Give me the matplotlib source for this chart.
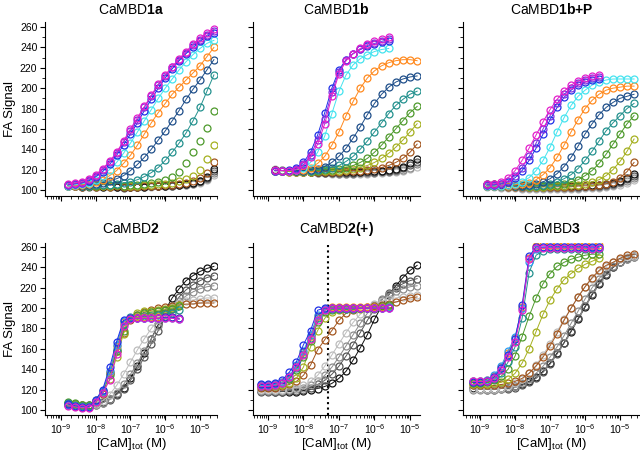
import numpy as np
import matplotlib
matplotlib.use('Agg')
import matplotlib.pyplot as plt
from matplotlib.ticker import LogLocator, LogFormatterSciNotation, MultipleLocator, NullFormatter

plt.rcParams['font.family'] = ['Liberation Sans', 'DejaVu Sans']
plt.rcParams['mathtext.fontset'] = 'custom'
plt.rcParams['mathtext.rm'] = 'Liberation Sans'
plt.rcParams['mathtext.it'] = 'Liberation Sans:italic'
plt.rcParams['mathtext.bf'] = 'Liberation Sans:bold'

# log10 of [CaM]tot (M) at the titration points
logc_a = [-8.8, -8.6, -8.4, -8.2, -8.0, -7.8, -7.6, -7.4, -7.2, -7.0, -6.8,
          -6.6, -6.4, -6.2, -6.0, -5.8, -5.6, -5.4, -5.2, -5.0, -4.8, -4.6]
logc_b = [-8.8, -8.6, -8.4, -8.2, -8.0, -7.8, -7.6, -7.4, -7.2, -7.0, -6.8,
          -6.6, -6.4, -6.2, -6.0, -5.8, -5.6, -5.4, -5.2, -5.0, -4.8]
logc_s = [-8.8, -8.6, -8.4, -8.2, -8.0, -7.8, -7.6, -7.4, -7.2, -7.0, -6.8,
          -6.6, -6.4, -6.2, -6.0, -5.8, -5.6]
logc_w = [-9.2, -9.0, -8.8, -8.6, -8.4, -8.2, -8.0, -7.8, -7.6, -7.4, -7.2, -7.0,
          -6.8, -6.6, -6.4, -6.2, -6.0, -5.8, -5.6, -5.4, -5.2, -5.0, -4.8]
logc_ws = [-9.2, -9.0, -8.8, -8.6, -8.4, -8.2, -8.0, -7.8, -7.6, -7.4, -7.2, -7.0,
           -6.8, -6.6, -6.4, -6.2, -6.0, -5.8, -5.6]
logc_x = [-9.2, -9.0, -8.8, -8.6, -8.4, -8.2, -8.0, -7.8, -7.6, -7.4, -7.2, -7.0,
          -6.8, -6.6, -6.4, -6.2, -6.0, -5.8, -5.6, -5.4, -5.2, -5.0, -4.8, -4.6]

decades = [-9, -8, -7, -6, -5]

COLORS = {'magenta': '#e31ecb', 'purple': '#7b2fe0', 'blue': '#1f30e8',
          'cyan': '#45e3ef', 'azure': '#2a9bf0', 'orange': '#ff8a1f',
          'navy': '#1f4f8a', 'teal': '#23918e', 'green': '#4e9a2c',
          'olive': '#a5b020', 'brown': '#a3561f', 'black': '#111111',
          'dgray': '#555555', 'gray': '#8a8a8a', 'lgray': '#bdbdbd'}

cambd1a = {
    'magenta': [106, 107, 108, 111, 115, 121, 128, 137, 148, 160, 171, 182, 193, 204, 213, 221, 229, 236, 243, 249, 254, 258],
    'purple': [105, 106, 107, 110, 114, 120, 127, 136, 147, 158, 169, 181, 192, 203, 212, 221, 228, 235, 242, 247, 252, 256],
    'blue': [105, 106, 107, 109, 113, 118, 125, 134, 144, 155, 166, 178, 189, 200, 210, 219, 227, 234, 240, 246, 251, 254],
    'cyan': [104, 105, 106, 107, 110, 114, 120, 127, 136, 146, 157, 168, 179, 190, 200, 209, 218, 226, 233, 239, 244, 247],
    'orange': [104, 104, 105, 106, 108, 110, 114, 119, 126, 134, 144, 155, 166, 176, 185, 194, 201, 208, 215, 222, 231, 240],
    'navy': [104, 104, 104, 105, 106, 107, 109, 111, 114, 119, 125, 132, 140, 149, 158, 168, 178, 189, 199, 208, 218, 228],
    'teal': [104, 104, 104, 104, 105, 105, 105, 106, 107, 108, 110, 113, 117, 122, 129, 137, 146, 156, 168, 181, 197, 213],
    'green': [105, 105, 104, 104, 104, 105, 105, 105, 104, 105, 105, 106, 107, 108, 110, 113, 118, 126, 137, 148, 161, 178],
    'olive': [105, 104, 104, 104, 104, 104, 104, 105, 104, 104, 104, 105, 105, 106, 106, 107, 109, 111, 114, 120, 130, 144],
    'brown': [104, 104, 103, 104, 103, 104, 103, 104, 103, 103, 103, 104, 104, 104, 105, 105, 106, 107, 109, 112, 117, 127],
    'black': [104, 104, 103, 104, 104, 103, 104, 103, 103, 103, 103, 103, 104, 104, 104, 105, 105, 106, 107, 109, 113, 121],
    'dgray': [105, 104, 104, 103, 103, 104, 103, 103, 102, 103, 103, 103, 104, 104, 104, 104, 105, 106, 107, 109, 112, 119],
    'gray': [105, 105, 104, 104, 104, 103, 104, 103, 103, 103, 103, 104, 104, 104, 104, 104, 105, 105, 106, 108, 111, 117],
    'lgray': [105, 104, 104, 104, 103, 103, 103, 103, 103, 103, 103, 103, 103, 104, 104, 104, 105, 105, 106, 107, 110, 115],
}

cambd1b = {
    'magenta': [120, 119, 119, 120, 124, 132, 145, 165, 192, 214, 227, 234, 239, 243, 246, 248, 250],
    'purple': [119, 119, 119, 121, 125, 134, 149, 170, 196, 216, 228, 234, 238, 242, 244, 246, 248],
    'blue': [119, 119, 120, 122, 127, 137, 154, 176, 200, 218, 228, 234, 238, 241, 243, 245, 246],
    'cyan': [119, 119, 119, 120, 122, 127, 137, 153, 175, 197, 213, 223, 229, 233, 236, 238, 239],
    'orange': [119, 119, 119, 120, 120, 122, 126, 133, 144, 157, 173, 187, 200, 210, 217, 222, 225, 227, 228, 228, 227],
    'navy': [119, 119, 119, 119, 119, 120, 121, 123, 127, 133, 141, 151, 162, 174, 185, 194, 201, 206, 209, 211, 212],
    'teal': [119, 119, 119, 119, 119, 119, 120, 121, 122, 124, 128, 133, 140, 148, 157, 166, 175, 183, 189, 194, 197],
    'green': [119, 119, 119, 119, 119, 119, 119, 120, 120, 121, 122, 124, 127, 131, 137, 144, 152, 160, 168, 176, 182],
    'olive': [119, 119, 118, 118, 118, 118, 119, 119, 119, 119, 120, 121, 122, 124, 127, 131, 136, 142, 149, 157, 165],
    'brown': [119, 119, 118, 118, 118, 118, 118, 118, 118, 118, 119, 119, 119, 120, 121, 122, 124, 127, 131, 137, 145],
    'black': [120, 119, 119, 119, 119, 118, 118, 118, 118, 118, 118, 118, 118, 119, 119, 119, 120, 121, 123, 126, 130],
    'dgray': [120, 119, 119, 118, 118, 118, 118, 117, 117, 117, 117, 117, 118, 118, 118, 119, 119, 120, 122, 124, 127],
    'gray': [120, 120, 119, 119, 118, 118, 117, 117, 117, 116, 116, 116, 117, 117, 117, 118, 118, 119, 120, 122, 125],
    'lgray': [121, 120, 119, 119, 118, 118, 117, 117, 116, 116, 116, 116, 116, 116, 117, 117, 118, 118, 119, 121, 123],
}

cambd1bp = {
    'magenta': [106, 106, 108, 112, 119, 129, 141, 154, 167, 179, 189, 197, 203, 207, 210, 212, 213],
    'purple': [105, 105, 106, 109, 114, 122, 133, 146, 160, 173, 185, 194, 200, 205, 208, 210, 211],
    'blue': [105, 105, 106, 108, 112, 119, 129, 141, 155, 169, 181, 191, 198, 203, 206, 208, 209],
    'cyan': [104, 104, 104, 105, 106, 108, 112, 119, 129, 142, 157, 171, 183, 192, 198, 203, 206, 208, 209, 209, 209, 209],
    'orange': [104, 104, 104, 104, 105, 106, 107, 110, 115, 122, 132, 144, 157, 169, 180, 188, 194, 198, 200, 201, 202, 202],
    'navy': [104, 104, 104, 104, 104, 104, 105, 106, 108, 111, 116, 123, 132, 143, 155, 165, 174, 181, 186, 190, 192, 194],
    'teal': [104, 104, 104, 104, 104, 104, 104, 104, 105, 106, 108, 111, 115, 121, 129, 138, 148, 158, 166, 173, 180, 185],
    'green': [104, 104, 104, 104, 104, 104, 104, 104, 104, 105, 105, 106, 108, 110, 114, 119, 126, 135, 145, 155, 165, 173],
    'olive': [104, 104, 104, 104, 104, 104, 103, 103, 103, 104, 104, 104, 105, 105, 106, 108, 110, 114, 120, 128, 138, 150],
    'brown': [104, 104, 104, 103, 103, 103, 103, 103, 103, 103, 103, 103, 103, 104, 104, 104, 105, 106, 108, 112, 118, 127],
    'black': [106, 106, 105, 105, 105, 105, 104, 104, 104, 104, 104, 104, 104, 104, 104, 105, 105, 106, 107, 109, 112, 116],
    'dgray': [105, 105, 104, 104, 104, 104, 103, 103, 103, 103, 103, 103, 103, 103, 104, 104, 104, 105, 106, 108, 111, 114],
    'gray': [104, 104, 103, 103, 103, 102, 102, 102, 102, 102, 102, 102, 102, 102, 103, 103, 103, 104, 105, 107, 109, 112],
    'lgray': [103, 103, 102, 102, 102, 101, 101, 101, 101, 101, 101, 101, 101, 101, 102, 102, 102, 103, 104, 105, 107, 110],
}

cambd2 = {
    'magenta': [104, 103, 102, 102, 108, 117, 129, 155, 182, 189, 190, 190, 190, 190, 190, 190, 189],
    'blue': [106, 104, 103, 103, 110, 120, 142, 167, 188, 190, 190, 190, 190, 190, 191, 191, 190],
    'azure': [105, 104, 103, 103, 109, 119, 138, 164, 187, 190, 190, 190, 190, 190, 190, 190, 189],
    'orange': [105, 104, 103, 103, 109, 119, 137, 163, 186, 190, 191, 191, 191, 191, 191, 191, 190],
    'teal': [107, 105, 104, 104, 109, 118, 136, 160, 184, 191, 191, 192, 192, 193, 194, 195, 198],
    'green': [108, 107, 105, 105, 110, 119, 134, 158, 178, 190, 193, 195, 196, 197, 198, 199, 202],
    'olive': [107, 106, 105, 104, 109, 117, 130, 152, 175, 190, 195, 197, 197, 198, 199, 200, 203],
    'brown': [105, 104, 103, 104, 108, 116, 136, 158, 176, 188, 193, 196, 198, 200, 201, 202, 203, 204, 204, 205, 205, 205],
    'lgray': [105, 105, 104, 104, 106, 109, 115, 124, 135, 147, 159, 170, 180, 189, 196, 201, 205, 207, 208, 209, 210, 210],
    'gray': [106, 105, 105, 104, 105, 107, 111, 117, 125, 135, 146, 158, 170, 182, 192, 200, 207, 212, 216, 219, 221, 222],
    'dgray': [106, 106, 105, 104, 105, 107, 110, 115, 121, 129, 140, 152, 165, 178, 191, 202, 211, 218, 223, 227, 230, 232],
    'black': [107, 106, 105, 105, 106, 108, 111, 116, 122, 131, 143, 156, 170, 184, 198, 210, 219, 227, 232, 236, 239, 241],
}

cambd2p = {
    'magenta': [123, 123, 124, 126, 132, 142, 154, 170, 188, 198, 200, 200, 200, 200, 200, 200, 200, 200, 200],
    'blue': [125, 125, 126, 129, 137, 147, 164, 178, 198, 200, 200, 200, 200, 200, 200, 200, 200, 200, 200],
    'azure': [124, 124, 125, 127, 133, 144, 158, 174, 193, 199, 200, 200, 200, 200, 200, 200, 200, 200, 201],
    'orange': [124, 124, 125, 127, 132, 143, 157, 173, 192, 199, 201, 201, 201, 201, 201, 201, 201, 201, 201],
    'teal': [123, 123, 124, 126, 131, 141, 155, 171, 190, 198, 199, 199, 199, 199, 200, 200, 200, 201, 201],
    'green': [124, 124, 125, 126, 130, 139, 152, 168, 186, 196, 198, 199, 199, 199, 200, 200, 201, 202, 203],
    'olive': [123, 123, 123, 124, 126, 131, 142, 162, 178, 190, 196, 198, 199, 199, 199, 200, 200, 201, 202],
    'brown': [122, 122, 122, 123, 125, 128, 134, 144, 159, 169, 178, 188, 195, 198, 200, 201, 202, 203, 204, 206, 208, 210, 211],
    'lgray': [120, 120, 120, 120, 121, 122, 124, 128, 134, 143, 154, 165, 176, 186, 194, 200, 204, 207, 209, 210, 211, 212, 213],
    'gray': [119, 119, 119, 119, 120, 121, 122, 124, 128, 134, 142, 152, 163, 174, 185, 195, 203, 209, 214, 217, 219, 221, 222],
    'dgray': [118, 118, 118, 118, 119, 119, 120, 122, 125, 129, 135, 143, 153, 164, 176, 188, 199, 208, 215, 220, 224, 227, 229],
    'black': [119, 119, 118, 118, 118, 118, 119, 120, 121, 123, 126, 131, 138, 149, 161, 174, 189, 202, 213, 222, 230, 237, 242],
}

cambd3 = {
    'magenta': [128, 128, 128, 131, 139, 152, 167, 198, 248, 259, 259, 259, 259, 259, 259, 259, 259, 258, 259],
    'blue': [127, 127, 128, 132, 141, 154, 170, 203, 251, 260, 260, 260, 260, 260, 260, 260, 260, 260, 260],
    'azure': [128, 128, 129, 134, 143, 158, 172, 200, 245, 258, 260, 260, 260, 260, 259, 260, 260, 259, 260],
    'orange': [128, 128, 129, 133, 142, 156, 171, 201, 249, 261, 262, 262, 262, 262, 262, 262, 262, 262, 262],
    'teal': [127, 127, 128, 130, 136, 147, 162, 190, 235, 252, 256, 258, 258, 258, 258, 258, 258, 258, 258],
    'green': [126, 126, 127, 129, 133, 140, 153, 172, 192, 210, 224, 234, 241, 245, 248, 250, 252, 253, 253],
    'olive': [125, 125, 125, 126, 127, 130, 136, 146, 160, 177, 194, 208, 219, 228, 234, 239, 243, 246, 249],
    'brown': [124, 124, 124, 124, 125, 126, 128, 131, 136, 143, 152, 163, 175, 188, 200, 211, 221, 230, 237, 242, 245, 249, 252, 253],
    'lgray': [121, 121, 121, 121, 122, 123, 126, 130, 136, 144, 154, 165, 177, 189, 200, 211, 221, 229, 236, 241, 245, 248, 250, 251],
    'gray': [120, 120, 120, 120, 121, 122, 123, 126, 130, 136, 143, 152, 162, 173, 185, 197, 209, 220, 229, 236, 241, 245, 248, 250],
    'dgray': [121, 121, 120, 120, 121, 121, 122, 124, 127, 131, 137, 145, 155, 166, 178, 190, 202, 214, 225, 234, 240, 245, 248, 250],
    'black': [122, 121, 121, 121, 122, 122, 123, 125, 128, 132, 138, 146, 156, 166, 177, 189, 201, 213, 224, 233, 240, 245, 249, 251],
}

GRAYS = {'black', 'dgray', 'gray', 'lgray'}

# title, data, grids, series drawn without a fit line, [left, bottom, w, h], log xlim, ylim
panels = [
    (r'CaMBD$\mathbf{1a}$', cambd1a, (logc_a,), {'green', 'olive', 'brown'} | GRAYS,
     [0.0703, 0.5673, 0.2688, 0.3841], (-9.46, -4.51), (94, 265)),
    (r'CaMBD$\mathbf{1b}$', cambd1b, (logc_s, logc_b), GRAYS,
     [0.3953, 0.5673, 0.2609, 0.3841], (-9.42, -4.72), (94, 265)),
    (r'CaMBD$\mathbf{1b{+}P}$', cambd1bp, (logc_s, logc_a), GRAYS,
     [0.7234, 0.5673, 0.2766, 0.3841], (-9.49, -4.43), (94, 265)),
    (r'CaMBD$\mathbf{2}$', cambd2, (logc_s, logc_a), set(),
     [0.0703, 0.0839, 0.2688, 0.3797], (-9.46, -4.51), (95, 264)),
    (r'CaMBD$\mathbf{2({+})}$', cambd2p, (logc_ws, logc_w), set(),
     [0.3953, 0.0839, 0.2609, 0.3797], (-9.42, -4.72), (95, 264)),
    (r'CaMBD$\mathbf{3}$', cambd3, (logc_ws, logc_x), set(),
     [0.7234, 0.0839, 0.2766, 0.3797], (-9.49, -4.43), (95, 264)),
]

dotted_logc = -7.3  # CaMBD2(+) marker line

fig = plt.figure(figsize=(6.4, 4.53), dpi=100)

for i, (title, data, grids, nofit, rect, xl, yl) in enumerate(panels):
    ax = fig.add_axes(rect)
    by_len = {len(g): g for g in grids}
    for name in reversed(list(data)):
        y = data[name]
        x = 10.0 ** np.array(by_len[len(y)])
        c = COLORS[name]
        ax.plot(x, y, ls='none' if name in nofit else '-', lw=0.7, color=c,
                marker='o', ms=5, mfc='none', mec=c, mew=0.9)
    ax.set_xscale('log')
    ax.set_xlim(10 ** xl[0], 10 ** xl[1])
    ax.set_ylim(*yl)
    ax.set_xticks(10.0 ** np.array(decades))
    ax.xaxis.set_minor_locator(LogLocator(base=10, subs=np.arange(2, 10), numticks=20))
    ax.xaxis.set_major_formatter(LogFormatterSciNotation())
    ax.xaxis.set_minor_formatter(NullFormatter())
    ax.yaxis.set_major_locator(MultipleLocator(20))
    ax.yaxis.set_minor_locator(MultipleLocator(10))
    for s in ('top', 'right'):
        ax.spines[s].set_visible(False)
    for s in ('left', 'bottom'):
        ax.spines[s].set_linewidth(0.8)
    ax.tick_params(which='major', direction='out', length=3.5, width=0.8, labelsize=7.5, pad=2)
    ax.tick_params(which='minor', direction='out', length=2, width=0.6)
    ax.tick_params(labelbottom=(i >= 3), labelleft=(i % 3 == 0))
    ax.set_title(title, fontsize=10, pad=7 if i >= 3 else 6)
    if i % 3 == 0:
        ax.set_ylabel('FA Signal', fontsize=9.5, labelpad=3)
    if i >= 3:
        ax.set_xlabel(r'[CaM]$_{\mathrm{tot}}$ (M)', fontsize=9.5, labelpad=0)
    if i == 4:
        ax.axvline(10 ** dotted_logc, color='black', lw=1.5, ls=(0, (1, 1.6)), zorder=0)

fig.savefig('out.png', dpi=100)
